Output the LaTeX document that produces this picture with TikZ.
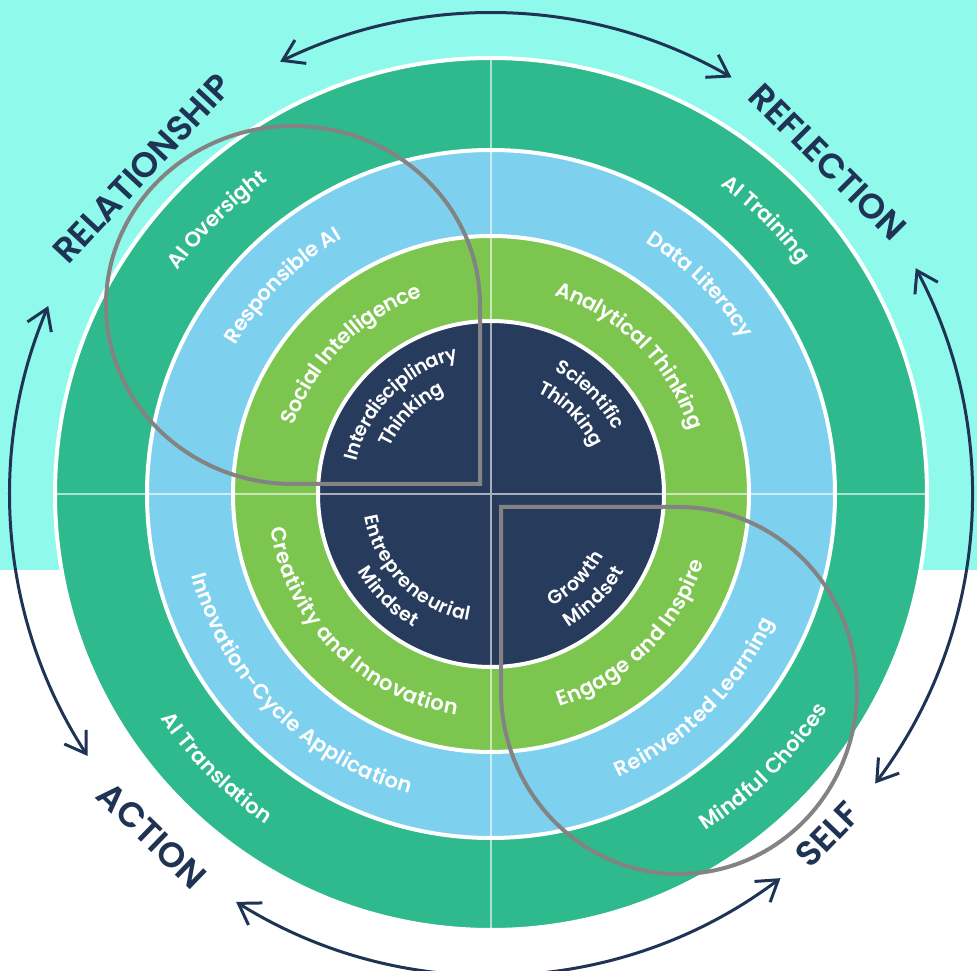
\documentclass[tikz,border=0pt]{standalone}
\usepackage{fontspec}
\setmainfont{Poppins}
\newfontfamily\labelfam{Poppins SemiBold}
\newfontfamily\headfam{Poppins SemiBold}
\usetikzlibrary{arrows.meta,decorations.text}
\definecolor{bgcyan}{HTML}{8FFAEC}
\definecolor{outgreen}{HTML}{2EBA8D}
\definecolor{ringblue}{HTML}{7ED1EE}
\definecolor{ringgreen}{HTML}{7CC54F}
\definecolor{corenavy}{HTML}{273B5C}
\definecolor{inknavy}{HTML}{1F3354}
\definecolor{loopgray}{HTML}{838383}
\newcommand\ringfont{\labelfam\fontsize{21}{24}\selectfont}
\newcommand\corefont{\labelfam\fontsize{19}{22}\selectfont}
\tikzset{
  arctext/.style={decorate, decoration={text along path, text align=center, text color=white, raise=#1}},
  outlabel/.style={text=inknavy, font=\headfam\fontsize{35}{35}\selectfont, inner sep=0pt},
  cycarrow/.style={inknavy, line width=3pt, {Straight Barb[length=20pt,width=26pt]}-{Straight Barb[length=20pt,width=26pt]}},
  loopline/.style={loopgray, line width=4pt, line join=miter}
}
\begin{document}
\begin{tikzpicture}[x=1pt, y=1pt, line cap=round]
	\def\rOut{436}  % outer green ring
	\def\rBlue{344}  % blue ring
	\def\rGreen{258}  % light green ring
	\def\rCore{173}  % navy core
	\def\rArr{481}  % cycle arrows
	\useasboundingbox (-491,-477) rectangle (486,494);
	\path 
	(0,0) coordinate (O)
	(-11,10) coordinate (P)
	(10,-13) coordinate (Q)
	;
	\fill[bgcyan] (-491,-76) rectangle (486,494);
	\foreach \r/\c in {\rOut/outgreen, \rBlue/ringblue, \rGreen/ringgreen, \rCore/corenavy}
	\filldraw[fill=\c, draw=white, line width=4pt] (O) circle[radius=\r];
	\draw[white, opacity=.6, line width=2pt, line cap=butt] 
	(-\rOut,0) -- (\rOut,0)
	(0,-\rOut) -- (0,\rOut)
	;
	
	% the two loops
	\draw[loopline] (P) -- (-11,189) arc[start angle=0, end angle=270, x radius=187, y radius=179] -- cycle;
	\draw[loopline] (Q) -- (188,-13) arc[start angle=90, end angle=-180, x radius=178, y radius=183.5] -- cycle;
	
	% ring labels
	\begin{scope}
	\ringfont
	\foreach \r/\a/\b/\t in {392/180/90/AI Oversight, 392/90/0/AI Training, 392/180/270/AI Translation, 392/270/360/Mindful Choices,
		303/180/90/Responsible AI, 303/90/0/Data Literacy, 303/180/270/Innovation-Cycle Application, 303/270/360/Reinvented Learning,
		216/180/90/Social Intelligence, 216/90/0/Analytical Thinking, 216/180/270/Creativity and Innovation, 216/270/360/Engage and Inspire}
	\path[arctext=-7.5pt, decoration={text/.expand once=\t}] (\a:\r) arc[start angle=\a, end angle=\b, radius=\r];
	\end{scope}
	
	% core labels
	\begin{scope}
	\corefont
	\foreach \r/\a/\b/\t in {145/180/90/Interdisciplinary, 118/180/90/Thinking, 145/90/0/Scientific, 118/90/0/Thinking,
		122/180/270/Entrepreneurial, 148/180/270/Mindset, 122/270/360/Growth, 148/270/360/Mindset}
	\path[arctext=-6.5pt, decoration={text/.expand once=\t}] (\a:\r) arc[start angle=\a, end angle=\b, radius=\r];
	\end{scope}
	
	% outer labels and arrows
	\node[outlabel, rotate=47] (relationship) at (137:477) {RELATIONSHIP};
	\node[outlabel, rotate=-45] (reflection) at (44.6:473) {REFLECTION};
	\node[outlabel, rotate=-44] (action) at (225.2:481) {ACTION};
	\node[outlabel, rotate=46] (self) at (-45.3:479) {SELF};
	\foreach \a/\b in {116/60, 28/-37, -53/-122, 157/213}
	\draw[cycarrow] (\a:\rArr) arc[start angle=\a, end angle=\b, radius=\rArr];
\end{tikzpicture}
\end{document}
